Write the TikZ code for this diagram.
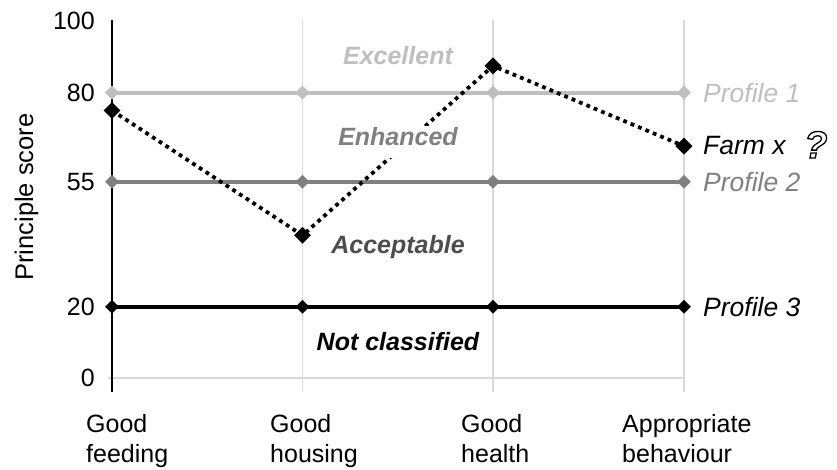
\documentclass[tikz,border=0pt]{standalone}
\usepackage{fontspec}
\setmainfont{Liberation Sans}
\usetikzlibrary{shapes.geometric}
\definecolor{pone}{HTML}{BFBFBF}
\definecolor{ptwo}{HTML}{808080}
\definecolor{pacc}{HTML}{4D4D4D}
\definecolor{gridc}{HTML}{D9D9D9}
\begin{document}
\begin{tikzpicture}[x=1pt,y=-1pt,
  gridline/.style={gridc, line width=1.5pt},
  axisline/.style={black, line width=1.8pt},
  profline/.style={line width=4pt},
  pdia/.style={diamond, aspect=1, inner sep=0pt, minimum size=14pt, draw=none},
  fdia/.style={diamond, aspect=1, inner sep=0pt, minimum size=17pt, fill=black, draw=none},
  farmline/.style={black, line width=3.8pt, dash pattern=on 3.8pt off 4.2pt},
  numlab/.style={anchor=east, inner sep=0pt, font=\fontsize{25}{30}\selectfont},
  catlab/.style={anchor=north west, inner sep=0pt, align=left, font=\fontsize{25}{30}\selectfont},
  proflab/.style={anchor=west, inner sep=0pt, font=\fontsize{26.5}{30}\selectfont\itshape},
  zonelab/.style={anchor=base, inner sep=0pt, font=\fontsize{25}{30}\selectfont\bfseries\itshape}]
\useasboundingbox (0,0) rectangle (837,469);
% axis frame coordinates
\coordinate (ta) at (112,20);  \coordinate (ba) at (112,392);
\coordinate (tb) at (302.5,20); \coordinate (bb) at (302.5,392);
\coordinate (tc) at (493,20);  \coordinate (bc) at (493,392);
\coordinate (td) at (684,20);  \coordinate (bd) at (684,392);
\coordinate (z0) at (108,378); \coordinate (z1) at (684,378);
% grid
\draw[gridline] (tb) -- (bb);
\draw[gridline] (tc) -- (bc);
\draw[gridline] (td) -- (bd);
\draw[gridline] (z0) -- (z1);
\draw[axisline] (ta) -- (ba);
% profile coordinates
\foreach \x/\n in {112/a,302.5/b,493/c,684/d}{
  \coordinate (p1\n) at (\x,92.6);
  \coordinate (p2\n) at (\x,181.8);
  \coordinate (p3\n) at (\x,306.7);
}
\draw[profline, pone] (p1a) -- (p1b) -- (p1c) -- (p1d);
\draw[profline, ptwo] (p2a) -- (p2b) -- (p2c) -- (p2d);
\draw[profline, black] (p3a) -- (p3b) -- (p3c) -- (p3d);
\foreach \n in {a,b,c,d}{
  \node[pdia, fill=pone] (d1\n) at (p1\n) {};
  \node[pdia, fill=ptwo] (d2\n) at (p2\n) {};
  \node[pdia, fill=black] (d3\n) at (p3\n) {};
}
% farm x
\coordinate (fa) at (112,110.5);
\coordinate (fb) at (302.5,235.3);
\coordinate (fc) at (493,65.9);
\coordinate (fd) at (684,146.1);
\draw[farmline] (fa) -- (fb) -- (fc) -- (fd);
\foreach \n in {a,b,c,d}{ \node[fdia] (fx\n) at (f\n) {}; }
% zone labels
\node[zonelab, pone] (exc) at (398,64) {Excellent};
\node[zonelab, ptwo, fill=white, inner xsep=3pt, text height=19pt, text depth=13pt] (enh) at (398,145) {Enhanced};
\node[zonelab, pacc] (acc) at (398,253) {Acceptable};
\node[zonelab, black] (notc) at (398,350) {Not classified};
% y axis numbers
\node[numlab] (n100) at (95,21.3) {100};
\node[numlab] (n80) at (95,92.6) {80};
\node[numlab] (n55) at (95,181.8) {55};
\node[numlab] (n20) at (95,306.7) {20};
\node[numlab] (n0) at (95,378) {0};
\node[rotate=90, anchor=base, inner sep=0pt, font=\fontsize{25.5}{30}\selectfont] (ylab) at (33,197) {Principle score};
% category labels
\node[catlab] (cfeed) at (86,414.5) {Good\\feeding};
\node[catlab] (chous) at (270,414.5) {Good\\housing};
\node[catlab] (cheal) at (461,414.5) {Good\\health};
\node[catlab] (cbeh) at (622,414.5) {Appropriate\\behaviour};
% profile labels
\node[proflab, pone] (l1) at (703,92.6) {Profile 1};
\node[proflab, ptwo] (l2) at (703,181.8) {Profile 2};
\node[proflab, black] (l3) at (703,306.7) {Profile 3};
\node[proflab, anchor=base west, black] (lfarm) at (703,154) {Farm x};
\node[anchor=base west, inner sep=0pt, font=\fontsize{38}{40}\selectfont\bfseries\itshape] (qm) at (804,158) {\special{pdf:code 1 Tr 1.3 w}?\special{pdf:code 0 Tr}};
\end{tikzpicture}
\end{document}
